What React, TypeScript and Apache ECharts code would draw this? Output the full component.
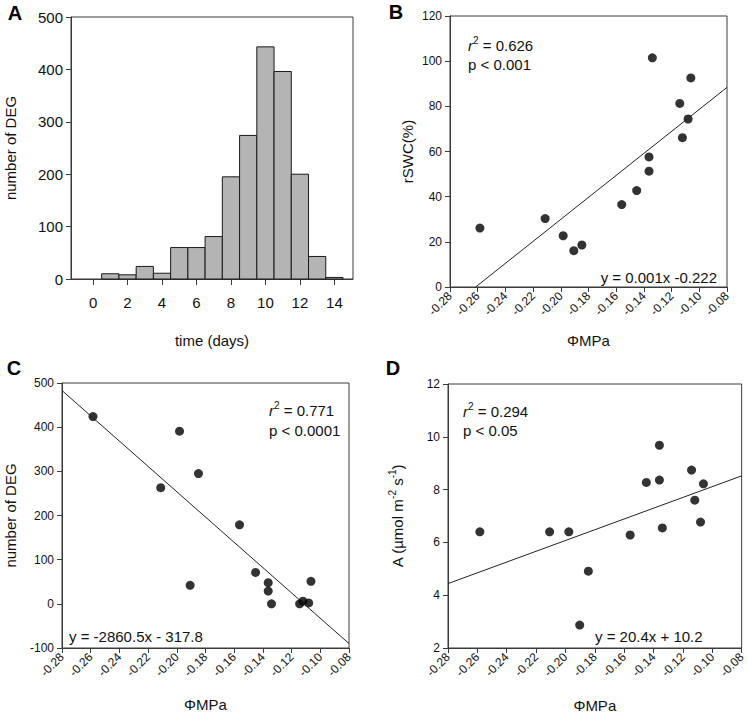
import React, { useEffect, useRef } from "react";
import * as echarts from "echarts";

// Panel A: histogram of DEG onset time
const histDays = [1, 2, 3, 4, 5, 6, 7, 8, 9, 10, 11, 12, 13, 14];
const histCounts = [10, 8, 24, 11, 60, 60, 81, 195, 274, 443, 396, 200, 43, 3];
const dayTicks = [0, 2, 4, 6, 8, 10, 12, 14];

// Panel B: rSWC vs ΦMPa
const phiB = [-0.2584, -0.2113, -0.1983, -0.1906, -0.1848, -0.156, -0.1452, -0.1363, -0.1363, -0.1339, -0.1141, -0.1122, -0.1081, -0.1061];
const rswcB = [26.1, 30.3, 22.7, 16.1, 18.6, 36.5, 42.7, 57.6, 51.3, 101.5, 81.3, 66.1, 74.4, 92.6];
const fitBx = [-0.2615, -0.08];
const fitBy = [0, 88.4];

// Panel C: number of DEG vs ΦMPa
const phiC = [-0.2584, -0.2112, -0.1981, -0.1907, -0.1849, -0.1563, -0.1451, -0.1363, -0.1363, -0.134, -0.1144, -0.1121, -0.1081, -0.1065];
const degC = [424, 263, 391, 42, 295, 179, 71, 48, 29, 0, 0, 6, 2, 51];
const fitCx = [-0.28, -0.08];
const fitCy = [483, -90];

// Panel D: photosynthesis vs ΦMPa
const phiD = [-0.2583, -0.2108, -0.1977, -0.1903, -0.1844, -0.1559, -0.1449, -0.136, -0.136, -0.134, -0.1141, -0.1119, -0.108, -0.106];
const photoD = [6.4, 6.4, 6.4, 2.87, 4.91, 6.28, 8.27, 9.68, 8.36, 6.55, 8.74, 7.6, 6.77, 8.22];
const fitDx = [-0.28, -0.08];
const fitDy = [4.44, 8.52];

const FONT = "Arial, 'Liberation Sans', Helvetica, sans-serif";
const AXIS_COLOR = "#3a3a3a";

const zip = (a: number[], b: number[]) => a.map((v, i) => [v, b[i]]);

function phiAxis(gridIndex: number, nameGap: number) {
  return {
    type: "value",
    gridIndex,
    min: -0.28,
    max: -0.08,
    interval: 0.02,
    name: "ΦMPa",
    nameLocation: "middle",
    nameGap,
    nameTextStyle: { fontFamily: FONT, fontSize: 15, color: "#111" },
    axisLine: { show: true, onZero: false, lineStyle: { color: AXIS_COLOR, width: 1 } },
    axisTick: { show: true, length: 5, lineStyle: { color: AXIS_COLOR } },
    axisLabel: {
      rotate: 45,
      margin: 7,
      fontFamily: FONT,
      fontSize: 12,
      color: "#111",
      formatter: (v: number) => v.toFixed(2),
    },
    splitLine: { show: false },
  };
}

function valAxis(gridIndex: number, min: number, max: number, interval: number, name: any, nameGap: number, labelSize: number, rich?: any) {
  return {
    type: "value",
    gridIndex,
    min,
    max,
    interval,
    name,
    nameLocation: "middle",
    nameGap,
    nameRotate: 90,
    nameTextStyle: { fontFamily: FONT, fontSize: 15, color: "#111", rich },
    axisLine: { show: true, onZero: false, lineStyle: { color: AXIS_COLOR, width: 1 } },
    axisTick: { show: true, length: 5, lineStyle: { color: AXIS_COLOR } },
    axisLabel: { margin: 8, fontFamily: FONT, fontSize: labelSize, color: "#111" },
    splitLine: { show: false },
  };
}

const annoRich = {
  i: { fontFamily: FONT, fontSize: 15, fontStyle: "italic", lineHeight: 20, fill: "#111", verticalAlign: "middle" },
  s: { fontFamily: FONT, fontSize: 10, lineHeight: 13, fill: "#111", verticalAlign: "top" },
  n: { fontFamily: FONT, fontSize: 15, lineHeight: 20, fill: "#111", verticalAlign: "middle" },
};

function anno(text: string, x: number, y: number, align: string = "left") {
  return {
    type: "text",
    x,
    y,
    silent: true,
    style: {
      text,
      rich: annoRich,
      font: `15px ${FONT}`,
      fill: "#111",
      textAlign: align,
      textVerticalAlign: "middle",
    },
  };
}

function letter(text: string, x: number, y: number) {
  return {
    type: "text",
    x,
    y,
    silent: true,
    style: {
      text,
      font: `bold 20px ${FONT}`,
      fill: "#000",
      textAlign: "center",
      textVerticalAlign: "middle",
    },
  };
}

export default function App() {
  const ref = useRef<HTMLDivElement>(null);

  useEffect(() => {
    if (!ref.current) return;
    const chart = echarts.init(ref.current, null, { renderer: "svg" });

    const gridStyle = { show: true, borderColor: AXIS_COLOR, borderWidth: 1, backgroundColor: "transparent", containLabel: false };

    const option: any = {
      animation: false,
      backgroundColor: "#fff",
      grid: [
        { ...gridStyle, left: 71, top: 17, width: 282, height: 262 },
        { ...gridStyle, left: 450, top: 16, width: 277, height: 271 },
        { ...gridStyle, left: 62, top: 383, width: 287, height: 265 },
        { ...gridStyle, left: 448, top: 384, width: 295, height: 265 },
      ],
      xAxis: [
        {
          type: "value",
          gridIndex: 0,
          min: -1.28,
          max: 15.08,
          name: "time (days)",
          nameLocation: "middle",
          nameGap: 54,
          nameTextStyle: { fontFamily: FONT, fontSize: 15, color: "#111" },
          axisLine: { show: true, onZero: false, lineStyle: { color: AXIS_COLOR, width: 1 } },
          axisTick: { show: true, length: 6, customValues: dayTicks, lineStyle: { color: AXIS_COLOR } },
          axisLabel: { customValues: dayTicks, margin: 16, fontFamily: FONT, fontSize: 15, color: "#111" },
          splitLine: { show: false },
        },
        phiAxis(1, 46),
        phiAxis(2, 49),
        phiAxis(3, 50),
      ],
      yAxis: [
        valAxis(0, 0, 500, 100, "number of DEG", 53, 15),
        valAxis(1, 0, 120, 20, "rSWC(%)", 35, 12),
        valAxis(2, -100, 500, 100, "number of DEG", 44, 12),
        valAxis(
          3,
          2,
          12,
          2,
          "{n|A (µmol m}{s|-2}{n| s}{s|-1}{n|)}",
          41,
          12,
          {
            n: { fontFamily: FONT, fontSize: 15, lineHeight: 20, color: "#111", verticalAlign: "middle" },
            s: { fontFamily: FONT, fontSize: 10, lineHeight: 13, color: "#111", verticalAlign: "top" },
          }
        ),
      ],
      series: [
        {
          type: "custom",
          xAxisIndex: 0,
          yAxisIndex: 0,
          data: zip(histDays, histCounts),
          encode: { x: 0, y: 1 },
          renderItem: (params: any, api: any) => {
            const x = api.value(0);
            const y = api.value(1);
            const p0 = api.coord([x - 0.5, y]);
            const p1 = api.coord([x + 0.5, 0]);
            return {
              type: "rect",
              shape: { x: p0[0], y: p0[1], width: p1[0] - p0[0], height: p1[1] - p0[1] },
              style: { fill: "#b4b4b4", stroke: "#1a1a1a", lineWidth: 1 },
            };
          },
        },
        {
          type: "line",
          xAxisIndex: 1,
          yAxisIndex: 1,
          data: zip(fitBx, fitBy),
          symbol: "none",
          lineStyle: { color: "#222", width: 1 },
          silent: true,
        },
        {
          type: "scatter",
          xAxisIndex: 1,
          yAxisIndex: 1,
          data: zip(phiB, rswcB),
          symbolSize: 9,
          itemStyle: { color: "#000" },
        },
        {
          type: "line",
          xAxisIndex: 2,
          yAxisIndex: 2,
          data: zip(fitCx, fitCy),
          symbol: "none",
          lineStyle: { color: "#222", width: 1 },
          silent: true,
        },
        {
          type: "scatter",
          xAxisIndex: 2,
          yAxisIndex: 2,
          data: zip(phiC, degC),
          symbolSize: 9,
          itemStyle: { color: "#000" },
        },
        {
          type: "line",
          xAxisIndex: 3,
          yAxisIndex: 3,
          data: zip(fitDx, fitDy),
          symbol: "none",
          lineStyle: { color: "#222", width: 1 },
          silent: true,
        },
        {
          type: "scatter",
          xAxisIndex: 3,
          yAxisIndex: 3,
          data: zip(phiD, photoD),
          symbolSize: 9,
          itemStyle: { color: "#000" },
        },
      ],
      graphic: [
        letter("A", 15, 13),
        letter("B", 396, 12),
        letter("C", 14, 368),
        letter("D", 393, 368),
        anno("{i|r}{s|2}{n| = 0.626}", 468, 45),
        anno("{n|p < 0.001}", 468, 64),
        anno("{n|y = 0.001x -0.222}", 717, 277, "right"),
        anno("{i|r}{s|2}{n| = 0.771}", 269, 410),
        anno("{n|p < 0.0001}", 269, 430),
        anno("{n|y = -2860.5x - 317.8}", 69, 636),
        anno("{i|r}{s|2}{n| = 0.294}", 463, 411),
        anno("{n|p < 0.05}", 463, 430),
        anno("{n|y = 20.4x + 10.2}", 595, 636),
      ],
    };

    chart.setOption(option);
    return () => {
      chart.dispose();
    };
  }, []);

  return (
    <div
      ref={ref}
      style={{ position: "absolute", left: 0, top: 0, width: 748, height: 714, background: "#fff" }}
    />
  );
}
